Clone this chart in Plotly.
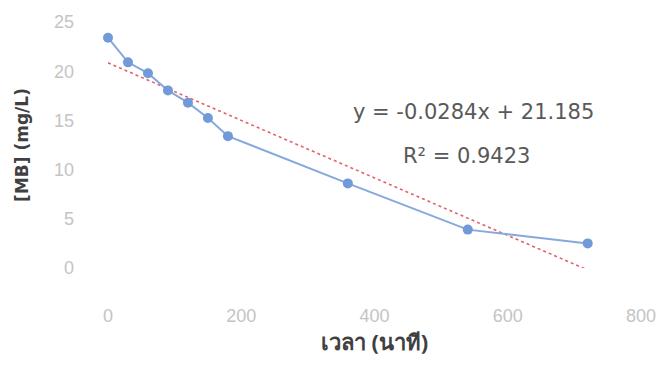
import plotly.graph_objects as go

time_min = [0, 30, 60, 90, 120, 150, 180, 360, 540, 720]
mb_conc = [23.4, 20.9, 19.8, 18.05, 16.8, 15.25, 13.4, 8.6, 3.9, 2.5]
slope = -0.0284
intercept = 21.185
r2 = 0.9423
# trendline as drawn in the picture
trend_x = [0, 720]
trend_y = [20.85, -0.2]
x_ticks = [0, 200, 400, 600, 800]
y_ticks = [0, 5, 10, 15, 20, 25]

fig = go.Figure()
fig.add_trace(go.Scatter(
    x=trend_x, y=trend_y, mode="lines",
    line=dict(color="#e0636b", width=1.6, dash="dot"),
    showlegend=False, hoverinfo="skip", cliponaxis=False))
fig.add_trace(go.Scatter(
    x=time_min, y=mb_conc, mode="lines+markers",
    line=dict(color="#86a8dc", width=2),
    marker=dict(color="#7299d8", size=10),
    showlegend=False, cliponaxis=False))

fig.add_annotation(
    x=(481 - 108) / 544, y=1 - (108 - 16) / 252, xref="paper", yref="paper",
    xanchor="center", yanchor="middle",
    text=f"y = {slope}x + {intercept}", showarrow=False,
    font=dict(size=21, color="#595959", family="DejaVu Sans"))
fig.add_annotation(
    x=(474 - 108) / 544, y=1 - (153 - 16) / 252, xref="paper", yref="paper",
    xanchor="center", yanchor="middle",
    text=f"R² = {r2}", showarrow=False,
    font=dict(size=21, color="#595959", family="DejaVu Sans"))

fig.update_layout(
    width=668, height=377,
    margin=dict(l=108, r=16, t=16, b=109),
    paper_bgcolor="white", plot_bgcolor="white",
    font=dict(family="DejaVu Sans"),
    xaxis=dict(range=[0, 800], tickvals=x_ticks, showgrid=False, zeroline=False,
               showline=False, ticks="", ticklabelstandoff=35,
               tickfont=dict(size=18, color="#c4c4c4", family="Liberation Sans"),
               title=dict(text="<b>เวลา (นาที)</b>", standoff=8,
                          font=dict(size=22, color="#404040", family="Noto Sans"))),
    yaxis=dict(range=[0, 25], tickvals=y_ticks, showgrid=False, zeroline=False,
               showline=False, ticks="", ticklabelstandoff=33,
               tickfont=dict(size=18, color="#c4c4c4", family="Liberation Sans"),
               title=dict(text="<b>[MB] (mg/L)</b>", standoff=21,
                          font=dict(size=17, color="#404040", family="DejaVu Sans"))),
)

fig.write_html("out.html")
